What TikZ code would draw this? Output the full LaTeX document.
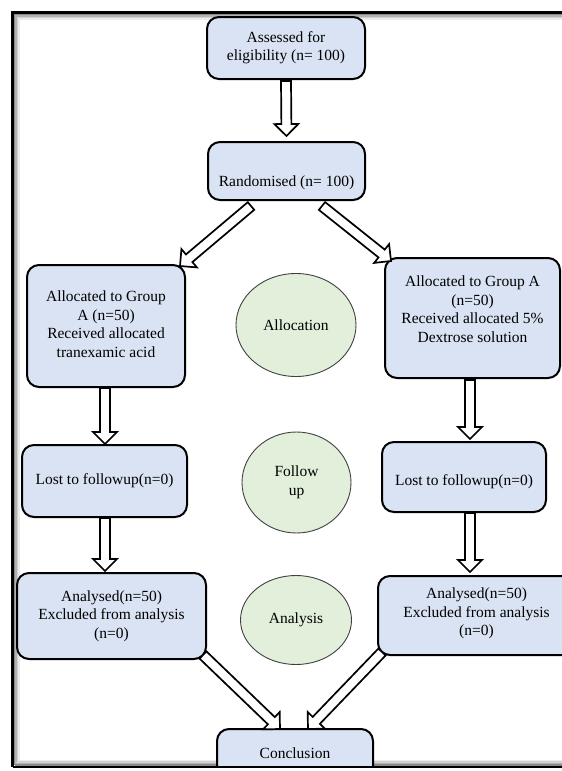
\documentclass[tikz,border=0pt]{standalone}
\usepackage{fontspec}
\setmainfont{Liberation Serif}
\usetikzlibrary{calc,shapes.geometric}
\definecolor{boxblue}{RGB}{218,227,243}
\definecolor{ellgreen}{RGB}{226,239,218}
\newcommand\ctext[2]{\raisebox{#1}[\height][\depth]{\begin{tabular}{@{}c@{}}#2\end{tabular}}}
\newcommand\fatarrow[2]{%
  \path ($(#2)!12pt!(#1)$) coordinate (hb);
  \draw[fatarr] ($(#1)!5pt!90:(#2)$) -- ($(hb)!5pt!90:(#2)$) -- ($(hb)!12pt!90:(#2)$) -- (#2)
     -- ($(hb)!12pt!-90:(#2)$) -- ($(hb)!5pt!-90:(#2)$) -- ($(#1)!5pt!-90:(#2)$) -- cycle;
}
\begin{document}
\begin{tikzpicture}[x=1pt,y=-1pt,
  box/.style={rectangle, draw=black, line width=2pt, fill=boxblue, rounded corners=12pt,
    align=center, inner sep=0pt, font=\fontsize{15.5}{18.5}\selectfont},
  ell/.style={ellipse, draw=black!75, line width=0.9pt, fill=ellgreen, inner sep=0pt,
    align=center, font=\fontsize{15.5}{18.5}\selectfont},
  fatarr/.style={draw=black, line width=1.7pt, fill=white, line join=miter}]
\useasboundingbox (0,0) rectangle (562,771);
% inner shadow of the frame
\foreach \d/\c in {2/45,3.5/30,5/18,6.5/8}{
  \draw[black!\c, line width=1.5pt] (12.5+\d,767-\d) -- (12.5+\d,12.5+\d) -- (600,12.5+\d);
  \draw[black!\c, line width=1.5pt] (12.5+\d,767-\d) -- (600,767-\d);
}
\begin{scope}
\clip (0,0) rectangle (562,767);
% boxes
\node[box, minimum width=158pt, minimum height=62pt] (assess) at (286,48)
  {\ctext{0pt}{Assessed for\\eligibility (n= 100)}};
\node[box, minimum width=157pt, minimum height=58pt] (rand) at (286.5,171)
  {\ctext{-12pt}{Randomised (n= 100)}};
\node[box, minimum width=158pt, minimum height=122pt] (allocL) at (106,326)
  {\ctext{0pt}{Allocated to Group\\A (n=50)\\Received allocated\\tranexamic acid}};
\node[box, minimum width=175pt, minimum height=120pt] (allocR) at (472.5,318)
  {\ctext{7pt}{Allocated to Group A\\(n=50)\\Received allocated 5\%\\Dextrose solution}};
\node[box, minimum width=165pt, minimum height=72pt] (lostL) at (104.5,481)
  {\ctext{0pt}{Lost to followup(n=0)}};
\node[box, minimum width=164pt, minimum height=70pt] (lostR) at (464,477)
  {\ctext{-5pt}{Lost to followup(n=0)}};
\node[box, minimum width=189pt, minimum height=86pt] (analL) at (111.5,616)
  {\ctext{0pt}{Analysed(n=50)\\Excluded from analysis\\(n=0)}};
\node[box, minimum width=197pt, minimum height=79pt] (analR) at (476.5,615.5)
  {\ctext{2pt}{Analysed(n=50)\\Excluded from analysis\\(n=0)}};
\node[box, minimum width=156pt, minimum height=52pt] (concl) at (295,755)
  {\ctext{0pt}{Conclusion}};
% ellipses
\node[ell, minimum width=120pt, minimum height=103pt] (ealloc) at (296,325) {Allocation};
\node[ell, minimum width=109pt, minimum height=101pt] (efollow) at (296.5,482.5) {Follow\\up};
\node[ell, minimum width=111pt, minimum height=89pt] (eanal) at (296,620) {Analysis};
% arrow end points
\coordinate (a1s) at ($(assess.south)+(0,1)$);
\coordinate (a1e) at ($(rand.north)+(0,-5)$);
\coordinate (a2s) at ($(rand.south)+(-35.5,5)$);
\coordinate (a2e) at ($(allocL.north east)+(-6,2)$);
\coordinate (a3s) at ($(rand.south)+(35.5,5)$);
\coordinate (a3e) at ($(allocR.north west)+(7,4)$);
\coordinate (a4s) at ($(allocL.south)+(-1,0)$);
\coordinate (a4e) at (a4s |- lostL.north);
\coordinate (a5s) at ($(lostL.south)+(0.5,0)$);
\coordinate (a5e) at ($(a5s |- analL.north)+(0,-1)$);
\coordinate (a6s) at ($(allocR.south)+(-2.5,1)$);
\coordinate (a6e) at ($(a6s |- lostR.north)+(0,-2)$);
\coordinate (a7s) at ($(lostR.south)+(6,0)$);
\coordinate (a7e) at ($(a7s |- analR.north)+(0,-3)$);
\coordinate (a8s) at ($(analL.south east)+(-4,-5)$);
\coordinate (a8e) at ($(concl.north)+(-15,1)$);
\coordinate (a9s) at ($(analR.south west)+(5,-4)$);
\coordinate (a9e) at ($(concl.north)+(13,1)$);
\fatarrow{a1s}{a1e}
\fatarrow{a2s}{a2e}
\fatarrow{a3s}{a3e}
\fatarrow{a4s}{a4e}
\fatarrow{a5s}{a5e}
\fatarrow{a6s}{a6e}
\fatarrow{a7s}{a7e}
\fatarrow{a8s}{a8e}
\fatarrow{a9s}{a9e}
\end{scope}
% frame
\draw[black, line width=2.5pt] (12.5,767) -- (12.5,12.5) -- (600,12.5);
\draw[black, line width=2.5pt] (12.5,767) -- (600,767);
\end{tikzpicture}
\end{document}
